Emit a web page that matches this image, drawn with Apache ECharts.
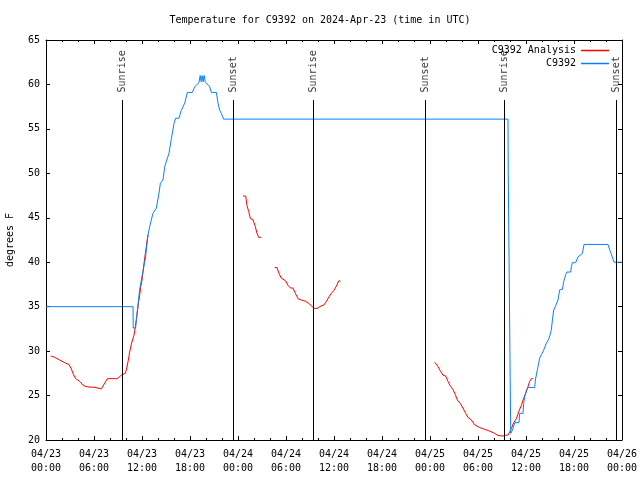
<!DOCTYPE html>
<html><head><meta charset="utf-8">
<script src="https://cdn.jsdelivr.net/npm/echarts@6/dist/echarts.min.js"></script>
<style>html,body{margin:0;padding:0;background:#fff}#c{width:640px;height:480px}</style>
</head><body><div id="c"></div>
<script>
// x values are hours since 2024-04-23 00:00 UTC
const xTickLabels = ['04/23\n00:00','04/23\n06:00','04/23\n12:00','04/23\n18:00','04/24\n00:00','04/24\n06:00','04/24\n12:00','04/24\n18:00','04/25\n00:00','04/25\n06:00','04/25\n12:00','04/25\n18:00','04/26\n00:00'];

const stationName = 'C9392';
const analysisName = 'C9392 Analysis';

// observed station temperature [hour, degF]
const stationData = [
  [0,35],[10.88,35],[10.9,32.6],[11.2,32.6],[11.3,33.5],[11.7,36.9],[12.1,38.9],[12.42,40.4],[12.75,43.1],[12.96,44],
  [13.37,45.5],[13.8,46.1],[14.12,47.75],[14.3,48.9],[14.62,49.25],[14.84,50.75],[15.37,52.25],[15.67,53.9],[16.0,55.6],
  [16.2,56.2],[16.62,56.2],[16.92,57.1],[17.34,57.9],[17.67,59.1],[18.3,59.1],[18.59,59.75],[19.12,60.2],[19.27,61],
  [19.4,60.3],[19.52,61],[19.65,60.3],[19.77,61],[19.9,60.3],[20.46,59.75],[20.67,59.1],[21.3,59.1],[21.5,57.9],
  [21.71,57.1],[21.92,56.75],[22.2,56.1],[57.75,56.1],[57.78,50.3],[57.9,38.6],[58.02,27],[58.09,20.75],[58.3,21.1],
  [58.59,21.95],[59.12,21.95],[59.21,23.0],[59.62,23.0],[59.71,24.1],[59.84,24.9],[60.05,25.6],[60.25,25.9],[61.09,25.9],
  [61.17,26.75],[61.42,27.9],[61.71,29.2],[61.92,29.6],[62.21,30.1],[62.55,30.9],[62.87,31.4],[63.17,32.4],[63.3,33.5],
  [63.46,34.6],[63.71,35.1],[64.0,35.75],[64.21,36.9],[64.55,36.95],[64.71,37.8],[64.96,38.6],[65.12,38.9],[65.59,38.9],
  [65.67,39.5],[65.8,39.95],[66.21,39.95],[66.5,40.6],[67.05,41.0],[67.25,42.0],[70.25,42.0],[70.46,41.4],[70.67,40.9],
  [71.0,40.0],[72,40.0]
];

// analysis temperature [hour, degF]; null = gap
const analysisData = [
  [0.59,29.45],[1.09,29.3],[1.71,29.0],[2.34,28.7],[2.87,28.5],[3.17,28.0],[3.37,27.5],[3.71,26.9],[4.21,26.6],[4.71,26.1],
  [5.37,25.95],[6.0,25.95],[6.21,25.8],[6.92,25.75],[7.34,26.4],[7.67,26.9],[8.92,26.9],[9.12,27.1],[9.42,27.3],[9.62,27.5],
  [9.92,27.5],[10.05,27.9],[10.25,28.8],[10.46,29.9],[10.67,30.8],[10.87,30.8],[11.0,31.8],[11.17,32.75],[11.37,34.1],
  [11.55,35.4],[11.71,36.3],[11.84,37.25],[12.0,38.0],[12.34,40.5],[12.75,43.1],
  [18,null],
  [24.62,47.45],[24.96,47.45],[25.12,46.4],[25.34,45.7],[25.55,44.9],[25.87,44.8],[26.17,44.0],[26.37,43.25],[26.59,42.8],[26.87,42.8],
  [27.7,null],
  [28.59,39.4],[28.87,39.4],[29.12,38.75],[29.42,38.2],[29.62,38.0],[29.96,37.9],[30.25,37.4],[30.55,37.1],[30.87,37.1],
  [31.17,36.5],[31.5,35.9],[31.92,35.75],[32.46,35.6],[32.96,35.3],[33.25,35.0],[33.59,34.8],[33.87,34.8],[34.21,35.0],
  [34.75,35.2],[35.05,35.6],[35.37,36.1],[35.67,36.5],[35.96,36.8],[36.3,37.3],[36.59,37.9],[36.8,37.9],
  [42,null],
  [48.59,28.75],[48.8,28.75],[49.0,28.25],[49.34,27.7],[49.62,27.3],[49.96,27.2],[50.25,26.6],[50.59,26.0],[50.87,25.7],
  [51.17,25.1],[51.42,24.5],[51.8,24.1],[52.12,23.6],[52.46,23.0],[52.75,22.55],[53.17,22.25],[53.59,21.7],[54.21,21.4],
  [54.84,21.2],[55.46,21.0],[56.09,20.75],[56.5,20.5],[57.12,20.45],[57.46,20.55],[57.75,20.55],[57.96,20.9],[58.17,21.3],
  [58.46,21.95],[58.8,22.4],[59.09,23.2],[59.42,23.9],[59.71,24.7],[59.96,25.25],[60.25,26.0],[60.46,26.6],[60.67,26.9],[60.87,26.9]
];

const sunriseHours = [9.5, 33.46, 57.34];
const sunsetHours = [23.37, 47.41, 71.34];

const FONT = 'DejaVu Sans Mono';
const Y_MIN = 20, Y_MAX = 65;
const LINE_TOP = 58.25, LABEL_BASE = 59.1;

const sunEvents = [];
sunriseHours.forEach(h => sunEvents.push([h, 'Sunrise']));
sunsetHours.forEach(h => sunEvents.push([h, 'Sunset']));

const chart = echarts.init(document.getElementById('c'), null, {renderer: 'canvas'});
const axisCommon = {
  type: 'value', min: 0, max: 72, interval: 6,
  axisLine: {show: true, onZero: false, lineStyle: {color: '#000', width: 1}},
  axisTick: {show: true, inside: true, length: 4, lineStyle: {color: '#000'}},
  minorTick: {show: true, splitNumber: 3, length: 2, lineStyle: {color: '#000'}},
  splitLine: {show: false}, minorSplitLine: {show: false}
};
const yCommon = {
  type: 'value', min: Y_MIN, max: Y_MAX, interval: 5,
  axisLine: {show: true, onZero: false, lineStyle: {color: '#000', width: 1}},
  axisTick: {show: true, inside: true, length: 4, lineStyle: {color: '#000'}},
  splitLine: {show: false}
};
chart.setOption({
  backgroundColor: '#fff',
  animation: false,
  textStyle: {fontFamily: FONT},
  title: {
    text: 'Temperature for C9392 on 2024-Apr-23 (time in UTC)',
    left: 'center', top: 10,
    textStyle: {fontFamily: FONT, fontSize: 10, fontWeight: 'normal', color: '#000'}
  },
  legend: {
    orient: 'vertical', right: 31, top: 44, align: 'right',
    itemWidth: 28, itemHeight: 1.5, itemGap: 0, padding: 0,
    icon: 'rect',
    textStyle: {fontFamily: FONT, fontSize: 10, color: '#000', lineHeight: 13},
    data: [analysisName, stationName]
  },
  grid: {left: 46, right: 18, top: 40, bottom: 40, containLabel: false, outerBoundsMode: 'none'},
  xAxis: [
    Object.assign({}, axisCommon, {
      position: 'bottom',
      axisLabel: {
        show: true, margin: 7, color: '#000', fontFamily: FONT, fontSize: 10, lineHeight: 14,
        formatter: v => xTickLabels[Math.round(v / 6)] || ''
      }
    }),
    Object.assign({}, axisCommon, {position: 'top', axisLabel: {show: false}})
  ],
  yAxis: [
    Object.assign({}, yCommon, {
      position: 'left',
      name: 'degrees F', nameLocation: 'middle', nameGap: 31, nameRotate: 90,
      nameTextStyle: {fontFamily: FONT, fontSize: 10, color: '#000'},
      axisLabel: {show: true, margin: 6, color: '#000', fontFamily: FONT, fontSize: 10}
    }),
    Object.assign({}, yCommon, {position: 'right', axisLabel: {show: false}})
  ],
  series: [
    {
      name: analysisName, type: 'line', xAxisIndex: 0, yAxisIndex: 0,
      data: analysisData.map(p => [p[0], p[1] === null ? '-' : p[1]]),
      showSymbol: false, symbol: 'none', connectNulls: false,
      lineStyle: {color: '#ff0000', width: 1}, itemStyle: {color: '#ff0000'}
    },
    {
      name: stationName, type: 'line', xAxisIndex: 0, yAxisIndex: 0,
      data: stationData, showSymbol: false, symbol: 'none',
      lineStyle: {color: '#0a80ff', width: 1}, itemStyle: {color: '#0a80ff'}
    },
    {
      name: 'sun', type: 'scatter', xAxisIndex: 0, yAxisIndex: 0,
      symbolSize: 0, silent: true,
      data: sunEvents.map(e => ({value: [e[0], LABEL_BASE], name: e[1]})),
      label: {
        show: true, position: [0, 0], rotate: 90, align: 'left', verticalAlign: 'middle',
        formatter: p => p.name, fontFamily: FONT, fontSize: 10, color: '#000'
      },
      markLine: {
        silent: true, symbol: 'none', animation: false,
        label: {show: false},
        lineStyle: {color: '#000', width: 1, type: 'solid'},
        data: sunEvents.map(e => [{coord: [e[0], Y_MIN]}, {coord: [e[0], LINE_TOP]}])
      }
    }
  ]
});
</script></body></html>
